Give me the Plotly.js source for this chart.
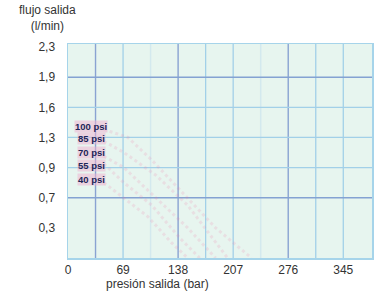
<!DOCTYPE html>
<html><head><meta charset="utf-8">
<script src="https://cdn.plot.ly/plotly-3.0.1.min.js"></script>
<style>html,body{margin:0;padding:0;background:#fff}#c{width:380px;height:292px}</style>
</head><body><div id="c"></div>
<script>
// axis ticks
const xTickVals = [0, 69, 138, 207, 276, 345];
const yTickText = ["0,3", "0,7", "0,9", "1,3", "1,6", "1,9", "2,3"];
const yTickFlow = [0.3, 0.7, 0.9, 1.3, 1.6, 1.9, 2.3];

// grid lines (values)
const gridDarkX = [34.5, 138, 276];
const gridLightX = [69, 172.5, 207, 310.5, 345];
const gridFaintX = [103.5, 241.5];
const gridDarkY = [1.9, 0.7];
const gridLightY = [1.6, 1.3, 0.9];

// curves: pressure (bar) vs flow (l/min)
const curveNames = ["100 psi", "85 psi", "70 psi", "55 psi", "40 psi"];
const p100 = [45, 75, 105, 140, 185, 230];
const f100 = [1.38, 1.3, 1.0, 0.75, 0.3, 0];
const p85 = [45, 70, 110, 150, 200];
const f85 = [1.25, 1.1, 0.85, 0.6, 0];
const p70 = [45, 70, 110, 150, 185];
const f70 = [1.05, 0.9, 0.7, 0.3, 0];
const p55 = [45, 70, 105, 140, 165];
const f55 = [0.95, 0.8, 0.6, 0.2, 0];
const p40 = [45, 70, 100, 130, 150];
const f40 = [0.8, 0.7, 0.45, 0.15, 0];
const labelFlow = [1.41, 1.28, 1.10, 0.93, 0.82];
const labelPress = 29;

// the y axis is drawn with evenly spaced (non-linear) ticks: map flow -> tick position
const yPosTicks = yTickFlow.map((_, i) => i + 1);
function flowPos(f) {
  const fl = [0].concat(yTickFlow), ps = [0].concat(yPosTicks);
  for (let i = 0; i < fl.length - 1; i++) {
    if (f <= fl[i + 1]) return ps[i] + (f - fl[i]) / (fl[i + 1] - fl[i]) * (ps[i + 1] - ps[i]);
  }
  return ps[ps.length - 1];
}

const curves = [[p100, f100], [p85, f85], [p70, f70], [p55, f55], [p40, f40]];
const traces = curves.map((c, i) => ({
  type: 'scatter', mode: 'lines', name: curveNames[i],
  x: c[0], y: c[1].map(flowPos),
  line: {color: 'rgba(235,120,165,0.17)', width: 3, dash: 'dot'},
  hoverinfo: 'skip', showlegend: false
}));

const shapes = [];
function vline(v, color, w) {
  shapes.push({type: 'line', xref: 'x', yref: 'paper', x0: v, x1: v, y0: 0, y1: 1, layer: 'below', line: {color: color, width: w}});
}
function hline(v, color, w) {
  shapes.push({type: 'line', xref: 'paper', yref: 'y', x0: 0, x1: 1, y0: flowPos(v), y1: flowPos(v), layer: 'below', line: {color: color, width: w}});
}
gridFaintX.forEach(v => vline(v, '#d3e9ee', 1.5));
gridLightX.forEach(v => vline(v, '#a2d0e8', 1.3));
gridDarkX.forEach(v => vline(v, '#8aa3d2', 1.4));
gridLightY.forEach(v => hline(v, '#a2d0e8', 1.3));
gridDarkY.forEach(v => hline(v, '#84a2d2', 1.5));

const annotations = curveNames.map((n, i) => ({
  x: labelPress, y: flowPos(labelFlow[i]), xref: 'x', yref: 'y', text: '<b>' + n + '</b>',
  showarrow: false, font: {family: 'Liberation Sans, Arial', size: 9.5, color: '#1d2658'},
  bgcolor: 'rgba(240,175,208,0.5)', borderpad: 0
}));
annotations.push({xref: 'paper', yref: 'paper', x: -0.069, xanchor: 'center', y: 1.0, yanchor: 'middle', yshift: 26,
  text: 'flujo salida<br>(l/min)', showarrow: false,
  font: {family: 'Liberation Sans, Arial', size: 12, color: '#333'}});
annotations.push({xref: 'paper', yref: 'paper', x: 0.293, xanchor: 'center', y: 0, yanchor: 'middle', yshift: -26, text: 'presión salida (bar)', showarrow: false,
  font: {family: 'Liberation Sans, Arial', size: 12, color: '#333'}});

const layout = {
  width: 380, height: 292,
  margin: {l: 68, r: 8, t: 44, b: 34},
  paper_bgcolor: '#ffffff', plot_bgcolor: '#e7f5ef',
  font: {family: 'Liberation Sans, Arial', size: 12, color: '#333'},
  xaxis: {range: [0, 381], tickvals: xTickVals, ticktext: xTickVals.map(String), showgrid: false, zeroline: false,
    showline: true, linecolor: '#a6d4ea', linewidth: 1.5, mirror: true, ticks: '', ticklabelstandoff: 0},
  yaxis: {range: [0, 7.1], tickvals: yPosTicks, ticktext: yTickText, showgrid: false, zeroline: false,
    showline: true, linecolor: '#a6d4ea', linewidth: 1.5, mirror: true, ticks: '', ticklabelstandoff: 9},
  shapes: shapes, annotations: annotations, showlegend: false
};
Plotly.newPlot('c', traces, layout, {displayModeBar: false, staticPlot: true});
</script></body></html>
